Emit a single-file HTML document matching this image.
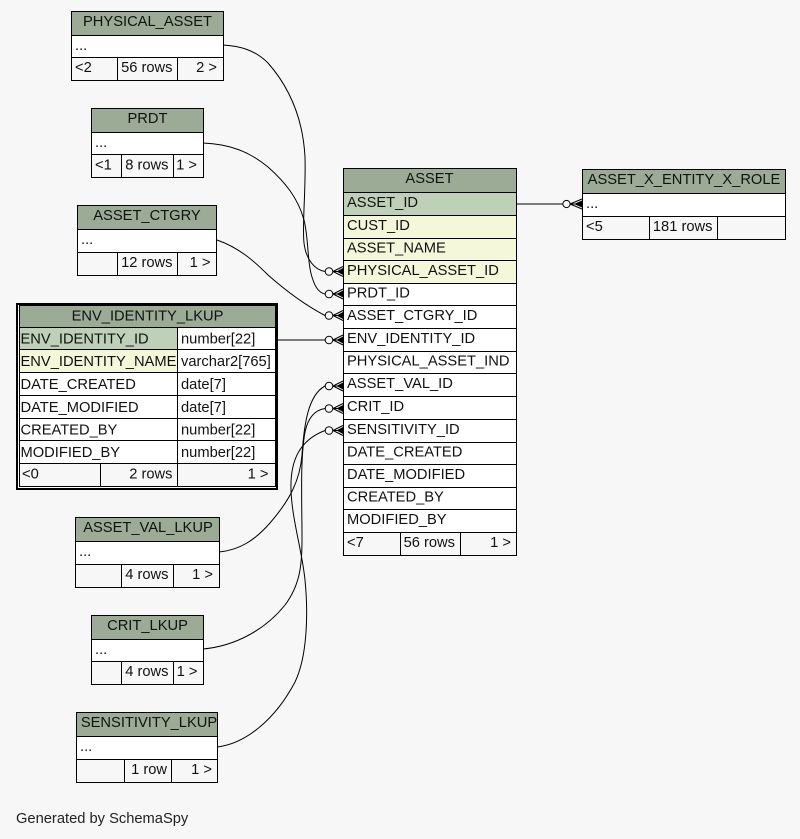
<!DOCTYPE html>
<html><head><meta charset="utf-8"><style>
html,body{margin:0;padding:0;background:#f7f7f7;}
svg{display:block;}
text{font-family:"Liberation Sans",Arial,sans-serif;font-size:14.7px;fill:#111;}
.t rect{stroke:#000;stroke-width:1;}
.e{fill:none;stroke:#000;stroke-width:1;}
</style></head><body>
<svg width="800" height="839" viewBox="0 0 800 839" xmlns="http://www.w3.org/2000/svg">
<rect x="0" y="0" width="800" height="839" fill="#f7f7f7"/>

<!-- connectors -->
<path class="e" d="M223,45 C240,46 255,50 268,63 C290,88 303,120 305,157 C306,190 302,225 304,243 C306,260 315,270 325,271.5"/>
<path class="e" d="M203,143 C230,144 250,152 268,167 C285,182 298,198 304,220 C309,240 307,265 313,280 C316,289 320,293 325,294"/>
<path class="e" d="M217,240 C240,248 255,262 268,275 C285,290 305,305 325,315.5"/>
<path class="e" d="M276,340 L325,340"/>
<path class="e" d="M219,552 C240,550 255,540 270,523 C290,500 300,480 302,455 C304,425 308,395 325,386"/>
<path class="e" d="M203,649 C235,646 265,630 285,605 C300,585 302,565 302,540 C302,500 300,460 305,432 C308,418 315,410 325,408.5"/>
<path class="e" d="M217,747 C245,744 275,720 295,682 C308,655 308,610 305,580 C302,550 292,520 291,490 C290,460 300,440 325,430.5"/>
<path class="e" d="M516,204 L563,204"/>

<!-- crow's feet + circles -->
<g stroke="#000" stroke-width="1" fill="none">
<circle cx="329" cy="271.5" r="3.8"/><circle cx="329" cy="294" r="3.8"/><circle cx="329" cy="315.5" r="3.8"/><circle cx="329" cy="340" r="3.8"/>
<circle cx="329" cy="386" r="3.8"/><circle cx="329" cy="408.5" r="3.8"/><circle cx="329" cy="430.5" r="3.8"/>
<circle cx="566.5" cy="204" r="3.6"/>
<path d="M333,271.5 L343,266.5 M333,271.5 L343,271.5 M333,271.5 L343,276.5"/>
<path d="M333,294 L343,289 M333,294 L343,294 M333,294 L343,299"/>
<path d="M333,315.5 L343,310.5 M333,315.5 L343,315.5 M333,315.5 L343,320.5"/>
<path d="M333,340 L343,335 M333,340 L343,340 M333,340 L343,345"/>
<path d="M333,386 L343,381 M333,386 L343,386 M333,386 L343,391"/>
<path d="M333,408.5 L343,403.5 M333,408.5 L343,408.5 M333,408.5 L343,413.5"/>
<path d="M333,430.5 L343,425.5 M333,430.5 L343,430.5 M333,430.5 L343,435.5"/>
<path d="M570,204 L582,199 M570,204 L582,204 M570,204 L582,209"/>
</g>
<g fill="#000">
<polygon points="336.5,271.5 343,268 343,275"/>
<polygon points="336.5,294 343,290.5 343,297.5"/>
<polygon points="336.5,315.5 343,312 343,319"/>
<polygon points="336.5,340 343,336.5 343,343.5"/>
<polygon points="336.5,386 343,382.5 343,389.5"/>
<polygon points="336.5,408.5 343,405 343,412"/>
<polygon points="336.5,430.5 343,427 343,434"/>
<polygon points="574,204 582,200.5 582,207.5"/>
</g>

<!-- PHYSICAL_ASSET -->
<g class="t">
<rect x="71.5" y="11.5" width="152" height="24" fill="#9bab96"/>
<rect x="71.5" y="35.5" width="152" height="22" fill="#fff"/>
<rect x="71.5" y="57.5" width="46" height="23" fill="#f7f7f7"/>
<rect x="117.5" y="57.5" width="60" height="23" fill="#f7f7f7"/>
<rect x="177.5" y="57.5" width="46" height="23" fill="#f7f7f7"/>
</g>
<text x="147.5" y="26" text-anchor="middle">PHYSICAL_ASSET</text>
<text x="75" y="50">...</text>
<text x="75" y="72">&lt;2</text>
<text x="172.5" y="72" text-anchor="end">56 rows</text>
<text x="217" y="72" text-anchor="end">2 &gt;</text>

<!-- PRDT -->
<g class="t">
<rect x="91.5" y="108.5" width="112" height="24" fill="#9bab96"/>
<rect x="91.5" y="132.5" width="112" height="22" fill="#fff"/>
<rect x="91.5" y="154.5" width="30" height="23" fill="#f7f7f7"/>
<rect x="121.5" y="154.5" width="52" height="23" fill="#f7f7f7"/>
<rect x="173.5" y="154.5" width="30" height="23" fill="#f7f7f7"/>
</g>
<text x="147.5" y="123" text-anchor="middle">PRDT</text>
<text x="95" y="147">...</text>
<text x="95" y="169.5">&lt;1</text>
<text x="168.5" y="169.5" text-anchor="end">8 rows</text>
<text x="197" y="169.5" text-anchor="end">1 &gt;</text>

<!-- ASSET_CTGRY -->
<g class="t">
<rect x="77.5" y="205.5" width="139" height="24" fill="#9bab96"/>
<rect x="77.5" y="229.5" width="139" height="23" fill="#fff"/>
<rect x="77.5" y="252.5" width="40" height="23" fill="#f7f7f7"/>
<rect x="117.5" y="252.5" width="60" height="23" fill="#f7f7f7"/>
<rect x="177.5" y="252.5" width="39" height="23" fill="#f7f7f7"/>
</g>
<text x="147" y="220" text-anchor="middle">ASSET_CTGRY</text>
<text x="81" y="244">...</text>
<text x="172.5" y="267" text-anchor="end">12 rows</text>
<text x="210.5" y="267" text-anchor="end">1 &gt;</text>

<!-- ENV_IDENTITY_LKUP -->
<rect x="17" y="304" width="260" height="185" fill="#fff" stroke="#000" stroke-width="2"/>
<g class="t">
<rect x="19.5" y="305.5" width="256" height="22" fill="#9bab96"/>
<rect x="19.5" y="327.5" width="158" height="22" fill="#bed1b8"/>
<rect x="177.5" y="327.5" width="98" height="22" fill="#fff"/>
<rect x="19.5" y="349.5" width="158" height="23" fill="#f4f7da"/>
<rect x="177.5" y="349.5" width="98" height="23" fill="#fff"/>
<rect x="19.5" y="372.5" width="158" height="23" fill="#fff"/>
<rect x="177.5" y="372.5" width="98" height="23" fill="#fff"/>
<rect x="19.5" y="395.5" width="158" height="23" fill="#fff"/>
<rect x="177.5" y="395.5" width="98" height="23" fill="#fff"/>
<rect x="19.5" y="418.5" width="158" height="22" fill="#fff"/>
<rect x="177.5" y="418.5" width="98" height="22" fill="#fff"/>
<rect x="19.5" y="440.5" width="158" height="23" fill="#fff"/>
<rect x="177.5" y="440.5" width="98" height="23" fill="#fff"/>
<rect x="19.5" y="463.5" width="81" height="23" fill="#f7f7f7"/>
<rect x="100.5" y="463.5" width="77" height="23" fill="#f7f7f7"/>
<rect x="177.5" y="463.5" width="98" height="23" fill="#f7f7f7"/>
</g>
<text x="147.5" y="320.5" text-anchor="middle">ENV_IDENTITY_LKUP</text>
<text x="20.5" y="343.5">ENV_IDENTITY_ID</text>
<text x="181" y="343.5">number[22]</text>
<text x="20.5" y="366">ENV_IDENTITY_NAME</text>
<text x="181" y="366">varchar2[765]</text>
<text x="20.5" y="389">DATE_CREATED</text>
<text x="181" y="389">date[7]</text>
<text x="20.5" y="412">DATE_MODIFIED</text>
<text x="181" y="412">date[7]</text>
<text x="20.5" y="434.5">CREATED_BY</text>
<text x="181" y="434.5">number[22]</text>
<text x="20.5" y="457">MODIFIED_BY</text>
<text x="181" y="457">number[22]</text>
<text x="22" y="478.5">&lt;0</text>
<text x="172.5" y="478.5" text-anchor="end">2 rows</text>
<text x="268.5" y="478.5" text-anchor="end">1 &gt;</text>

<!-- ASSET -->
<g class="t">
<rect x="343.5" y="168.5" width="173" height="24" fill="#9bab96"/>
<rect x="343.5" y="192.5" width="173" height="23" fill="#bed1b8"/>
<rect x="343.5" y="215.5" width="173" height="23" fill="#f4f7da"/>
<rect x="343.5" y="238.5" width="173" height="22" fill="#f4f7da"/>
<rect x="343.5" y="260.5" width="173" height="23" fill="#f4f7da"/>
<rect x="343.5" y="283.5" width="173" height="22" fill="#fff"/>
<rect x="343.5" y="305.5" width="173" height="23" fill="#fff"/>
<rect x="343.5" y="328.5" width="173" height="23" fill="#fff"/>
<rect x="343.5" y="351.5" width="173" height="22" fill="#fff"/>
<rect x="343.5" y="373.5" width="173" height="23" fill="#fff"/>
<rect x="343.5" y="396.5" width="173" height="23" fill="#fff"/>
<rect x="343.5" y="419.5" width="173" height="23" fill="#fff"/>
<rect x="343.5" y="442.5" width="173" height="22" fill="#fff"/>
<rect x="343.5" y="464.5" width="173" height="23" fill="#fff"/>
<rect x="343.5" y="487.5" width="173" height="22" fill="#fff"/>
<rect x="343.5" y="509.5" width="173" height="23" fill="#fff"/>
<rect x="343.5" y="532.5" width="57" height="23" fill="#f7f7f7"/>
<rect x="400.5" y="532.5" width="60" height="23" fill="#f7f7f7"/>
<rect x="460.5" y="532.5" width="56" height="23" fill="#f7f7f7"/>
</g>
<text x="429.5" y="183" text-anchor="middle">ASSET</text>
<text x="347" y="207">ASSET_ID</text>
<text x="347" y="230">CUST_ID</text>
<text x="347" y="252.5">ASSET_NAME</text>
<text x="347" y="275">PHYSICAL_ASSET_ID</text>
<text x="347" y="297.5">PRDT_ID</text>
<text x="347" y="320">ASSET_CTGRY_ID</text>
<text x="347" y="343">ENV_IDENTITY_ID</text>
<text x="347" y="365.5">PHYSICAL_ASSET_IND</text>
<text x="347" y="388">ASSET_VAL_ID</text>
<text x="347" y="411">CRIT_ID</text>
<text x="347" y="434">SENSITIVITY_ID</text>
<text x="347" y="456.5">DATE_CREATED</text>
<text x="347" y="479">DATE_MODIFIED</text>
<text x="347" y="501.5">CREATED_BY</text>
<text x="347" y="524">MODIFIED_BY</text>
<text x="347" y="547">&lt;7</text>
<text x="455" y="547" text-anchor="end">56 rows</text>
<text x="511" y="547" text-anchor="end">1 &gt;</text>

<!-- ASSET_X_ENTITY_X_ROLE -->
<g class="t">
<rect x="582.5" y="169.5" width="203" height="24" fill="#9bab96"/>
<rect x="582.5" y="193.5" width="203" height="23" fill="#fff"/>
<rect x="582.5" y="216.5" width="67" height="23" fill="#f7f7f7"/>
<rect x="649.5" y="216.5" width="68" height="23" fill="#f7f7f7"/>
<rect x="717.5" y="216.5" width="68" height="23" fill="#f7f7f7"/>
</g>
<text x="684" y="184" text-anchor="middle">ASSET_X_ENTITY_X_ROLE</text>
<text x="586" y="208">...</text>
<text x="586" y="231">&lt;5</text>
<text x="712.5" y="231" text-anchor="end">181 rows</text>

<!-- ASSET_VAL_LKUP -->
<g class="t">
<rect x="75.5" y="517.5" width="144" height="24" fill="#9bab96"/>
<rect x="75.5" y="541.5" width="144" height="23" fill="#fff"/>
<rect x="75.5" y="564.5" width="46" height="23" fill="#f7f7f7"/>
<rect x="121.5" y="564.5" width="52" height="23" fill="#f7f7f7"/>
<rect x="173.5" y="564.5" width="46" height="23" fill="#f7f7f7"/>
</g>
<text x="148" y="532" text-anchor="middle">ASSET_VAL_LKUP</text>
<text x="79" y="556">...</text>
<text x="168.5" y="579" text-anchor="end">4 rows</text>
<text x="213" y="579" text-anchor="end">1 &gt;</text>

<!-- CRIT_LKUP -->
<g class="t">
<rect x="91.5" y="615.5" width="112" height="24" fill="#9bab96"/>
<rect x="91.5" y="639.5" width="112" height="22" fill="#fff"/>
<rect x="91.5" y="661.5" width="30" height="23" fill="#f7f7f7"/>
<rect x="121.5" y="661.5" width="52" height="23" fill="#f7f7f7"/>
<rect x="173.5" y="661.5" width="30" height="23" fill="#f7f7f7"/>
</g>
<text x="147.5" y="630" text-anchor="middle">CRIT_LKUP</text>
<text x="95" y="654">...</text>
<text x="168.5" y="676" text-anchor="end">4 rows</text>
<text x="197.5" y="676" text-anchor="end">1 &gt;</text>

<!-- SENSITIVITY_LKUP -->
<g class="t">
<rect x="76.5" y="712.5" width="141" height="24" fill="#9bab96"/>
<rect x="76.5" y="736.5" width="141" height="23" fill="#fff"/>
<rect x="76.5" y="759.5" width="48" height="23" fill="#f7f7f7"/>
<rect x="124.5" y="759.5" width="47" height="23" fill="#f7f7f7"/>
<rect x="171.5" y="759.5" width="46" height="23" fill="#f7f7f7"/>
</g>
<text x="149" y="727" text-anchor="middle">SENSITIVITY_LKUP</text>
<text x="80" y="751">...</text>
<text x="167" y="774" text-anchor="end">1 row</text>
<text x="212" y="774" text-anchor="end">1 &gt;</text>

<text x="16" y="823" style="fill:#222">Generated by SchemaSpy</text>
</svg>
</body></html>
